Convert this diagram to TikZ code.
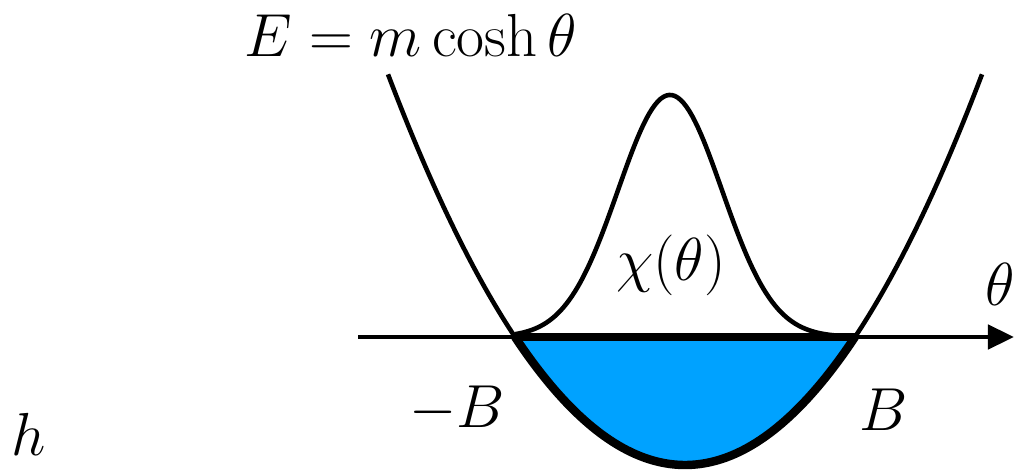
\documentclass[tikz,border=0pt]{standalone}
\usetikzlibrary{arrows.meta}
\definecolor{wellblue}{RGB}{0,162,255}
\tikzset{
  thinline/.style={line width=1.3pt},
  thickline/.style={line width=2.4pt},
  lbl/.style={anchor=base, inner sep=0pt}
}
\begin{document}
\begin{tikzpicture}[x=0.01cm, y=-0.01cm, font=\fontsize{17.5}{21}\selectfont]
  \useasboundingbox (0,0) rectangle (1018,470);
  \coordinate (lcross) at (515,337);
  \coordinate (rcross) at (855,337);
  \coordinate (axstart) at (358,337);
  \coordinate (axend) at (1014,337);

  % Filled region below the axis
  \fill[wellblue] (lcross) -- plot[domain=515:855, samples=80] (\x, {465-44.29*((\x-685)/100)^2}) -- cycle;

  % Axis
  \draw[thinline, -{Triangle[length=0.26cm, width=0.24cm]}] (axstart) -- (axend);
  \draw[thickline] (lcross) -- (rcross);

  % Energy curve
  \draw[thinline] plot[domain=388:982, samples=120] (\x, {465-44.29*((\x-685)/100)^2});
  \draw[thickline] plot[domain=515:855, samples=80] (\x, {465-44.29*((\x-685)/100)^2});

  % Bump
  \draw[thinline] plot[domain=515:855, samples=120] (\x, {337-242*exp(-0.5*((\x-670)/52)^2)});

  % Labels
  \node[lbl] (energy) at (411,57) {$E = m\cosh\theta$};
  \node[lbl] (chi) at (671,281) {$\chi(\theta)$};
  \node[lbl] (theta) at (1000,305) {$\theta$};
  \node[lbl] (minusb) at (457,427) {$-B$};
  \node[lbl] (plusb) at (884,430) {$B$};
  \node[lbl] (hlabel) at (29,455) {$h$};
\end{tikzpicture}
\end{document}
